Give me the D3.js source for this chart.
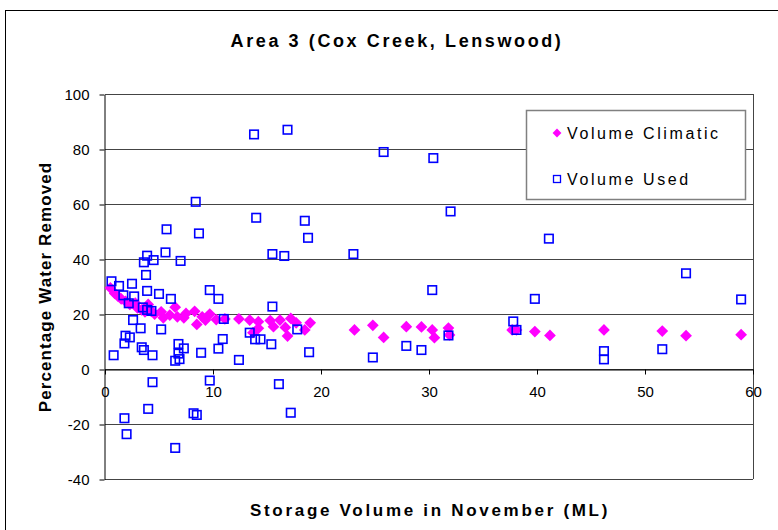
<!DOCTYPE html>
<head>
    <meta charset="utf-8">
    <script src="https://d3js.org/d3.v7.min.js"></script>
</head>
<style>
body {
  margin: 0;
  background: #fff;
  font-family: "Liberation Sans", Arial, sans-serif;
}
</style>
<body>
    <svg></svg>
</body>

<script>
    // data: [storage volume (ML), % water removed]
    var volumeClimatic = [
        [0.5, 29.5], [0.9, 27.5], [1.2, 26.5], [1.5, 25.5], [1.9, 24.6], [2.3, 23.5],
        [2.8, 24.0], [3.0, 22.2], [3.4, 21.5], [3.7, 20.8], [4.0, 23.5], [4.3, 21.0],
        [4.6, 20.0], [5.2, 20.8], [5.4, 18.6], [6.0, 19.6], [6.5, 22.5], [6.7, 19.0],
        [7.3, 18.6], [7.5, 20.2], [8.3, 21.0], [8.5, 16.2], [9.0, 19.0], [9.3, 17.8],
        [9.7, 20.0], [10.3, 18.0], [11.1, 18.2], [12.4, 18.2], [13.4, 17.8], [13.7, 13.2],
        [14.2, 17.2], [14.2, 14.8], [15.3, 17.6], [15.6, 15.4], [16.2, 17.8], [16.7, 15.1],
        [16.9, 12.0], [17.2, 18.4], [17.7, 16.8], [18.5, 14.2], [19.0, 16.8], [23.1, 14.2],
        [24.8, 15.9], [25.8, 11.5], [27.9, 15.4], [29.3, 15.3], [30.3, 14.2], [30.5, 11.4],
        [31.8, 14.9], [31.9, 12.4], [37.7, 14.2], [38.1, 14.2], [39.8, 13.6], [41.2, 12.2],
        [46.2, 14.2], [51.6, 13.8], [53.8, 12.1], [58.9, 12.5]
    ];

    var volumeUsed = [
        [3.9, 41.2], [5.6, 42.4], [3.6, 38.8], [4.5, 39.6], [7.0, 39.3], [3.8, 34.2],
        [0.6, 31.9], [1.3, 30.2], [2.5, 31.0], [3.9, 28.4], [5.0, 27.3], [6.1, 25.5],
        [9.7, 28.7], [10.5, 25.5], [1.7, 26.8], [2.7, 26.4], [2.2, 23.9], [3.5, 22.4],
        [3.9, 21.5], [4.3, 21.1], [11.0, 18.2], [2.6, 17.8], [3.3, 14.8], [5.2, 14.4],
        [1.9, 12.1], [2.3, 11.5], [1.8, 9.3], [3.4, 7.9], [3.6, 6.9], [4.4, 5.0],
        [0.8, 5.0], [6.8, 9.1], [7.3, 7.5], [6.8, 5.6], [6.9, 3.6], [6.5, 3.0],
        [8.9, 5.9], [10.5, 7.4], [10.9, 10.9], [4.4, -4.8], [9.7, -4.2],
        [15.5, 41.8], [16.6, 41.1], [23.0, 41.8], [18.8, 47.7], [15.5, 22.7], [13.4, 13.2],
        [13.9, 10.8], [14.4, 10.8], [15.4, 9.0], [17.8, 14.4], [12.4, 3.3], [18.9, 6.1],
        [16.1, -5.5], [17.2, -15.9],
        [13.8, 85.3], [16.9, 87.0], [8.4, 60.8], [5.7, 50.8], [8.7, 49.3], [14.0, 55.0],
        [18.5, 53.9], [25.8, 78.9], [30.4, 76.7], [32.0, 57.3], [41.1, 47.4],
        [30.3, 28.7], [39.8, 25.5], [37.8, 17.3], [38.1, 14.2], [31.8, 12.2], [27.9, 8.4],
        [29.3, 6.9], [24.8, 4.2], [53.8, 34.8], [58.9, 25.3], [46.2, 6.5], [46.2, 3.5],
        [51.6, 7.2], [4.0, -14.5], [1.8, -17.9], [8.2, -16.1], [8.5, -16.7], [2.0, -23.7],
        [6.5, -28.7]
    ];

    var xTicks = [0, 10, 20, 30, 40, 50, 60];
    var yTicks = [-40, -20, 0, 20, 40, 60, 80, 100];
    var seriesNames = ["Volume Climatic", "Volume Used"];

    var width = 778;
    var height = 530;

    var svg = d3.select('svg')
        .attr('width', width)
        .attr('height', height);

    // chart frame
    svg.append('rect')
        .attr('x', 5.5).attr('y', 10.5)
        .attr('width', 800).attr('height', 600)
        .attr('fill', 'none')
        .attr('stroke', '#000')
        .attr('stroke-width', 1);

    var x = d3.scaleLinear().domain([0, 60]).range([105, 753]);
    var y = d3.scaleLinear().domain([-40, 100]).range([479, 94]);

    // gridlines
    svg.append('g').selectAll('line')
        .data(yTicks)
        .enter().append('line')
        .attr('x1', x(0)).attr('x2', x(60))
        .attr('y1', function (d) { return Math.round(y(d)) + 0.5; })
        .attr('y2', function (d) { return Math.round(y(d)) + 0.5; })
        .attr('stroke', '#444')
        .attr('stroke-width', 1);

    // right border of plot area
    svg.append('line')
        .attr('x1', x(60) + 0.5).attr('x2', x(60) + 0.5)
        .attr('y1', y(100)).attr('y2', y(-40))
        .attr('stroke', '#444');

    // plain hyphen minus like the original
    var fmt = function (d) { return String(d); };

    // y axis
    var yAxis = svg.append('g')
        .attr('transform', 'translate(' + (x(0) - 0.5) + ',0.5)')
        .call(d3.axisLeft(y).tickValues(yTicks).tickFormat(fmt).tickSize(5).tickPadding(10).tickSizeOuter(0));

    // x axis along zero
    var xAxis = svg.append('g')
        .attr('transform', 'translate(0,' + (Math.round(y(0)) + 0.5) + ')')
        .call(d3.axisBottom(x).tickValues(xTicks).tickFormat(fmt).tickSize(5).tickPadding(12).tickSizeOuter(0));

    [yAxis, xAxis].forEach(function (a) {
        a.selectAll('path, line').attr('stroke', '#000');
        a.selectAll('text')
            .style('font-family', '"Liberation Sans", Arial, sans-serif')
            .style('font-size', '15px')
            .attr('fill', '#000');
    });

    var diamond = d3.symbol().type(d3.symbolDiamond2).size(88);

    // volume climatic
    svg.append('g').selectAll('path')
        .data(volumeClimatic)
        .enter().append('path')
        .attr('d', diamond)
        .attr('transform', function (d) { return 'translate(' + x(d[0]) + ',' + y(d[1]) + ')'; })
        .attr('fill', '#ff00ff');

    // volume used
    svg.append('g').selectAll('rect')
        .data(volumeUsed)
        .enter().append('rect')
        .attr('x', function (d) { return x(d[0]) - 4.25; })
        .attr('y', function (d) { return y(d[1]) - 4.25; })
        .attr('width', 8.5).attr('height', 8.5)
        .attr('fill', 'none')
        .attr('stroke', '#0000ff')
        .attr('stroke-width', 1.6);

    // legend
    var legend = svg.append('g');
    legend.append('rect')
        .attr('x', 526.5).attr('y', 110.5)
        .attr('width', 219).attr('height', 89)
        .attr('fill', '#fff')
        .attr('stroke', '#808080')
        .attr('stroke-width', 1.5);

    legend.append('path')
        .attr('d', d3.symbol().type(d3.symbolDiamond2).size(50))
        .attr('transform', 'translate(557,133)')
        .attr('fill', '#ff00ff');
    legend.append('rect')
        .attr('x', 553.5).attr('y', 175.5)
        .attr('width', 7).attr('height', 7)
        .attr('fill', 'none')
        .attr('stroke', '#0000ff')
        .attr('stroke-width', 1.3);

    legend.selectAll('text')
        .data(seriesNames)
        .enter().append('text')
        .attr('x', 567)
        .attr('y', function (d, i) { return 139 + i * 46; })
        .style('font-size', '16px')
        .style('letter-spacing', '2.6px')
        .text(function (d) { return d; });

    // titles
    svg.append('text')
        .attr('x', 397).attr('y', 47)
        .attr('text-anchor', 'middle')
        .style('font-size', '18px')
        .style('font-weight', 'bold')
        .style('letter-spacing', '2.6px')
        .text('Area 3 (Cox Creek, Lenswood)');

    svg.append('text')
        .attr('x', 430).attr('y', 516)
        .attr('text-anchor', 'middle')
        .style('font-size', '17px')
        .style('font-weight', 'bold')
        .style('letter-spacing', '2.7px')
        .text('Storage Volume in November (ML)');

    svg.append('text')
        .attr('transform', 'translate(51,287)rotate(-90)')
        .attr('text-anchor', 'middle')
        .style('font-size', '17px')
        .style('font-weight', 'bold')
        .style('letter-spacing', '1.1px')
        .text('Percentage Water Removed');
</script>
